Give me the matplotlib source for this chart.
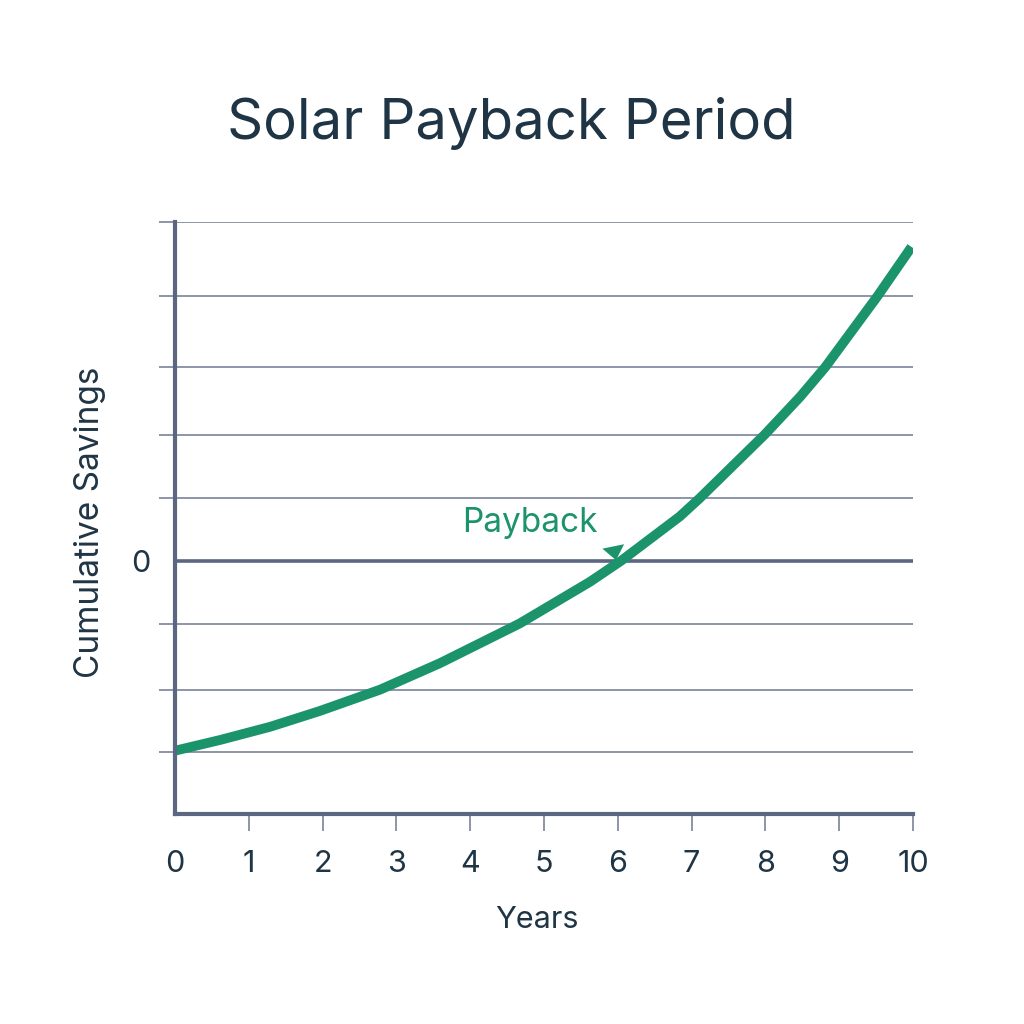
import matplotlib
matplotlib.use("Agg")
import matplotlib.pyplot as plt

# --- data ---
years = [0.00, 0.61, 1.29, 1.96, 2.78, 3.59, 4.67, 5.62, 6.05, 6.84,
         7.11, 7.99, 8.47, 8.81, 9.52, 9.98]
savings = [-3.02, -2.85, -2.64, -2.39, -2.05, -1.63, -1.00, -0.34, 0.00,
           0.70, 0.99, 2.00, 2.60, 3.07, 4.20, 4.98]
grid_levels = [-3.04, -2.05, -1.0, 0, 0.99, 2.0, 3.07, 4.2, 5.37]
y_bottom = -4.03
x_ticks = list(range(0, 11))
payback_tip = (5.976, 0.006)
payback_base = (5.938, 0.224)
payback_label = (4.81, 0.60)

GREEN = "#1b936b"
AXIS = "#5b6781"
GRID = "#6f7891"
TEXT = "#1f3545"

plt.rcParams['font.family'] = ['Inter', 'DejaVu Sans']

fig = plt.figure(figsize=(10.24, 10.24), dpi=100)
ax = fig.add_axes([175 / 1024, 1 - 814.3 / 1024, 738 / 1024, 591.9 / 1024])

# gridlines (zero line heavier)
for lvl in grid_levels:
    if lvl == 0:
        ax.axhline(lvl, color=AXIS, lw=2.6, zorder=1)
    else:
        ax.axhline(lvl, color=GRID, lw=1.1, zorder=1)

# savings curve
ax.plot(years, savings, color=GREEN, lw=7, solid_capstyle='butt',
        solid_joinstyle='round', zorder=3)

ax.set_xlim(0, 10)
ax.set_ylim(y_bottom, grid_levels[-1])

for side in ['top', 'right']:
    ax.spines[side].set_visible(False)
for side in ['left', 'bottom']:
    ax.spines[side].set_color(AXIS)
    ax.spines[side].set_linewidth(3)
    ax.spines[side].set_zorder(4)

ax.set_xticks(x_ticks)
ax.set_xticklabels([str(t) for t in x_ticks])
ax.set_yticks(grid_levels)
ax.set_yticklabels(['0' if lvl == 0 else '' for lvl in grid_levels])

ax.tick_params(axis='x', length=12, width=1.1, color=GRID, pad=14,
               labelsize=22, labelcolor=TEXT)
ax.tick_params(axis='y', length=11.5, width=1.1, color=GRID, pad=6,
               labelsize=22, labelcolor=TEXT)
ax.xaxis.get_major_ticks()[0].tick1line.set_visible(False)
ax.yaxis.get_major_ticks()[grid_levels.index(0)].tick1line.set_visible(False)

# payback annotation
ax.text(payback_label[0], payback_label[1], "Payback", color=GREEN, fontsize=24,
        ha='center', va='center')
ax.annotate('', xy=payback_tip, xytext=payback_base,
            arrowprops=dict(arrowstyle='-|>,head_length=0.72,head_width=0.57',
                            color=GREEN, lw=0, mutation_scale=14,
                            shrinkA=0, shrinkB=0), zorder=5)

fig.text(511 / 1024, 1 - 123 / 1024, "Solar Payback Period", fontsize=40.5,
         color=TEXT, ha='center', va='center')
fig.text(537 / 1024, 1 - 920 / 1024, "Years", fontsize=22, color=TEXT,
         ha='center', va='center')
fig.text(90 / 1024, 1 - 522 / 1024, "Cumulative Savings", fontsize=24,
         color=TEXT, ha='center', va='center', rotation=90)

fig.savefig("out.png", dpi=100, facecolor='white')
